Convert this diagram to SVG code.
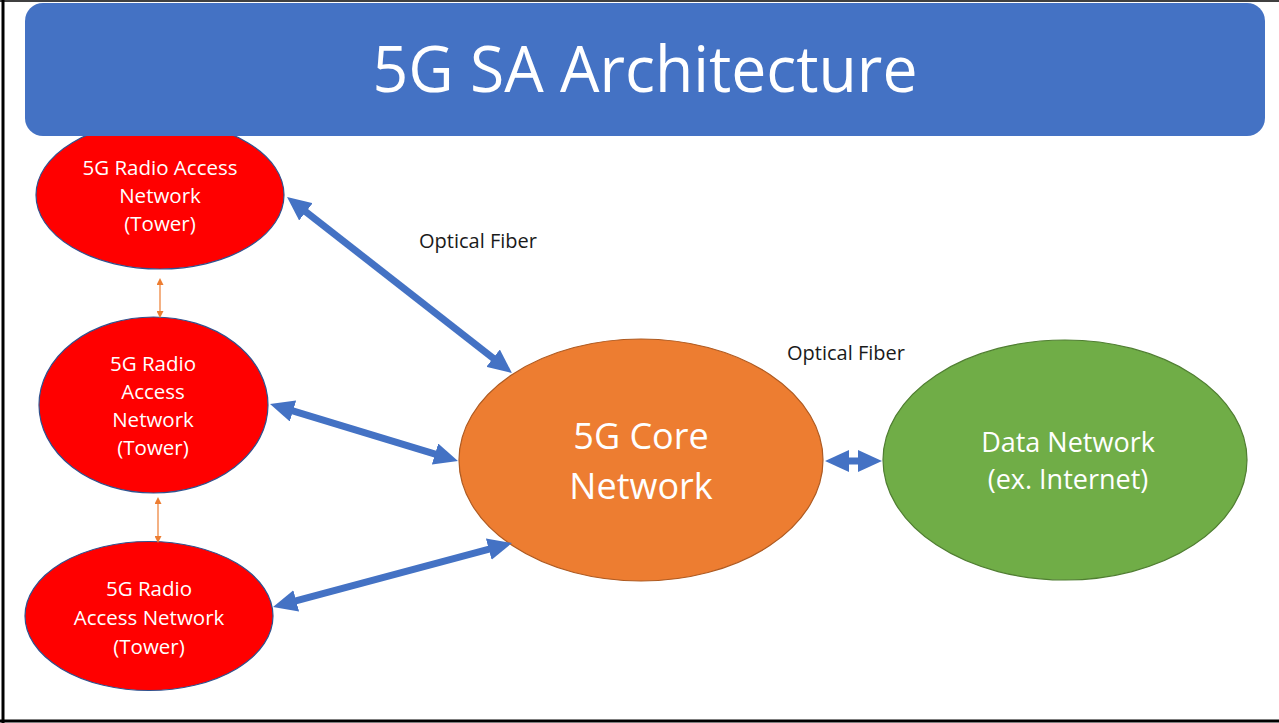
<svg xmlns="http://www.w3.org/2000/svg" width="1279" height="723" viewBox="0 0 1279 723">
<style>
text{font-family:"Open Sans","Liberation Sans",sans-serif;text-anchor:middle}
.w{fill:#ffffff}
.s{font-size:20.5px}
.red{fill:#ff0000;stroke:#2f528f;stroke-width:1.2}
.lbl{fill:#1a1a1a;font-size:20px;text-anchor:start}
.blue{stroke:#4472c4;stroke-width:7;fill:none;marker-start:url(#bh);marker-end:url(#bh)}
.or{stroke:#ed7d31;stroke-width:1.2;fill:none;marker-start:url(#oh);marker-end:url(#oh)}
</style>
<defs>
<marker id="bh" markerUnits="userSpaceOnUse" markerWidth="24" markerHeight="22" refX="14" refY="11" orient="auto-start-reverse" viewBox="0 0 24 22">
<path d="M0,0 L24,11 L0,22 z" fill="#4472c4"/>
</marker>
<marker id="oh" markerUnits="userSpaceOnUse" markerWidth="7" markerHeight="7" refX="5" refY="3.5" orient="auto-start-reverse" viewBox="0 0 7 7">
<path d="M0,0 L7,3.5 L0,7 z" fill="#ed7d31"/>
</marker>
</defs>
<rect width="1279" height="723" fill="#ffffff"/>
<g id="frame" stroke="#000" fill="none">
<line x1="0" y1="1" x2="1279" y2="1" stroke-width="1.5"/>
<line x1="3" y1="0" x2="3" y2="723" stroke-width="3"/>
<line x1="0" y1="721" x2="1279" y2="721" stroke-width="3"/>
</g>
<g id="ran1">
<ellipse class="red" cx="160" cy="195" rx="124" ry="74"/>
<text class="w s" x="160" y="175">5G Radio Access</text>
<text class="w s" x="160" y="203">Network</text>
<text class="w s" x="160" y="231">(Tower)</text>
</g>
<g id="title">
<rect x="25" y="3" width="1240" height="133" rx="18" fill="#4472c4"/>
<text class="w" x="645" y="92" font-size="64" textLength="545" lengthAdjust="spacingAndGlyphs">5G SA Architecture</text>
</g>
<g id="ran2">
<ellipse class="red" cx="153.5" cy="405" rx="114.5" ry="88"/>
<text class="w s" x="153" y="371">5G Radio</text>
<text class="w s" x="153" y="399">Access</text>
<text class="w s" x="153" y="427">Network</text>
<text class="w s" x="153" y="455">(Tower)</text>
</g>
<g id="ran3">
<ellipse class="red" cx="149" cy="616" rx="124" ry="74.5"/>
<text class="w s" x="149" y="596">5G Radio</text>
<text class="w s" x="149" y="625">Access Network</text>
<text class="w s" x="149" y="654">(Tower)</text>
</g>
<g id="core">
<ellipse cx="641" cy="460" rx="182" ry="121" fill="#ed7d31" stroke="#ae5a21" stroke-width="1.2"/>
<text class="w" font-size="36" x="641" y="449">5G Core</text>
<text class="w" font-size="36" x="641" y="499">Network</text>
</g>
<g id="dn">
<ellipse cx="1065" cy="460" rx="182" ry="120" fill="#70ad47" stroke="#507e32" stroke-width="1.2"/>
<text class="w" font-size="27" x="1068" y="452">Data Network</text>
<text class="w" font-size="27" x="1068" y="489">(ex. Internet)</text>
</g>
<g id="connectors">
<line class="blue" x1="294.9" y1="203.2" x2="504.1" y2="366.8"/>
<line class="blue" x1="279.6" y1="406.9" x2="448.4" y2="458.1"/>
<line class="blue" x1="282.7" y1="604.4" x2="502.3" y2="545.6"/>
<line class="blue" x1="835" y1="461" x2="872" y2="461"/>
<line class="or" x1="160" y1="280" x2="160" y2="316"/>
<line class="or" x1="158" y1="499" x2="158" y2="541"/>
<text class="lbl" x="419" y="248">Optical Fiber</text>
<text class="lbl" x="787" y="360">Optical Fiber</text>
</g>
</svg>
